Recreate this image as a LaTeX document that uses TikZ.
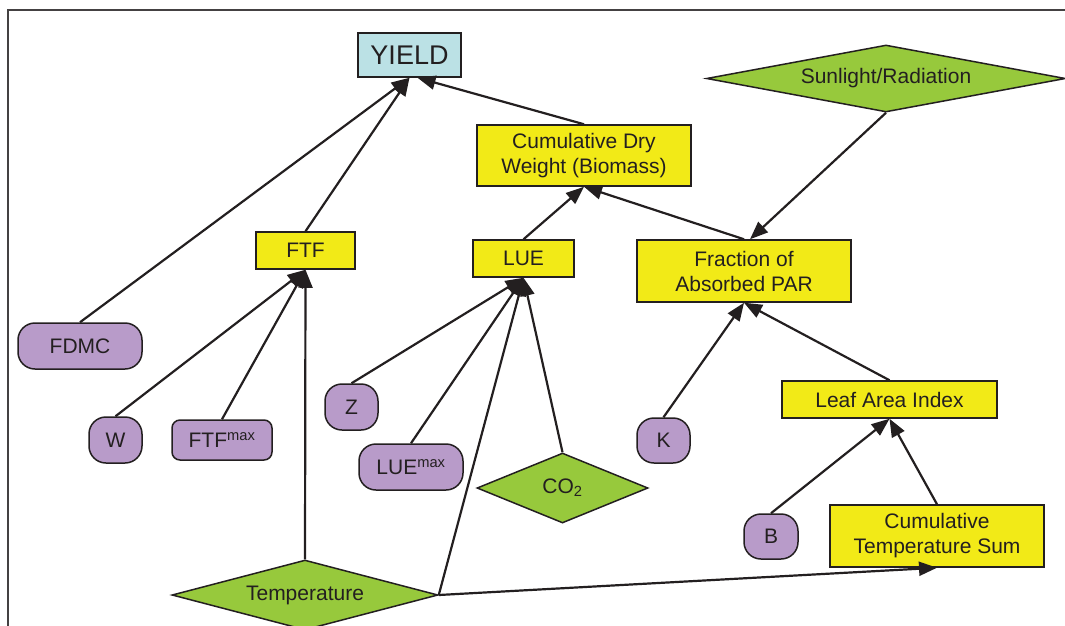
\documentclass[tikz,border=0pt]{standalone}
\usepackage{fontspec}
\setmainfont{Liberation Sans}
\usepackage{xcolor}
\usetikzlibrary{arrows.meta,shapes}

\definecolor{yel}{HTML}{F2EA17}
\definecolor{pur}{HTML}{B89BC9}
\definecolor{grn}{HTML}{97C93C}
\definecolor{blu}{HTML}{BBE1E5}
\definecolor{edge}{HTML}{231F20}

\begin{document}
\begin{tikzpicture}[x=1pt,y=-1pt,>={Triangle[length=18pt,width=14pt]},
  every node/.style={font=\fontsize{21}{25}\selectfont,text=edge,inner sep=0pt,draw=edge,line width=1.5pt},
  ybox/.style={fill=yel,align=center},
  pbox/.style={fill=pur,rounded corners=17pt},
  gdia/.style={diamond,shape aspect=6,fill=grn},
  link/.style={->,line width=2.2pt,draw=edge}]
\useasboundingbox (0,0) rectangle (1065,625);
\clip (0,0) rectangle (1065,625);
% frame
\draw[line width=2.6pt,edge!85](8,640)--(8,10)--(1090,10);
% target
\node[fill=blu,minimum width=103,minimum height=44,font=\fontsize{27}{30}\selectfont](yield) at (409.5,55){YIELD};
% yellow boxes
\node[ybox,minimum width=214,minimum height=61](cdw) at (584,155.5){Cumulative Dry\\Weight (Biomass)};
\node[ybox,minimum width=99,minimum height=37](ftf) at (305.5,250.5){FTF};
\node[ybox,minimum width=101,minimum height=37](lue) at (523.5,258.5){LUE};
\node[ybox,minimum width=214,minimum height=62](frac) at (744,271){Fraction of\\Absorbed PAR};
\node[ybox,minimum width=215,minimum height=37](lai) at (889.5,399.5){Leaf Area Index};
\node[ybox,minimum width=214,minimum height=62](cts) at (937,536){Cumulative\\Temperature Sum};
% green diamonds
\node[gdia,minimum width=359,minimum height=67](sun) at (886,78.5){Sunlight/Radiation};
\node[gdia,minimum width=266,minimum height=70](temp) at (305,595){Temperature};
\node[gdia,minimum width=171,minimum height=70](co2) at (562.5,488){CO\textsubscript{2}};
% purple inputs
\node[pbox,minimum width=124,minimum height=46](fdmc) at (80,346){FDMC};
\node[pbox,minimum width=53,minimum height=46](w) at (115.5,440){W};
\node[pbox,minimum width=100,minimum height=40,rounded corners=8pt](ftfmax) at (222,440){FTF\textsuperscript{max}};
\node[pbox,minimum width=53,minimum height=46](z) at (351.5,407){Z};
\node[pbox,minimum width=104,minimum height=46](luemax) at (411,467){LUE\textsuperscript{max}};
\node[pbox,minimum width=53,minimum height=45](k) at (663.5,440.5){K};
\node[pbox,minimum width=54,minimum height=45](b) at (771,536.5){B};
% connectors
\draw[link](fdmc.north)--(yield.south);
\draw[link](ftf.north)--(yield.south);
\draw[link](cdw.north)--([xshift=8pt]yield.south);
\draw[link](w.north)--(ftf.south);
\draw[link](ftfmax.north)--(ftf.south);
\draw[link](temp.north)--(ftf.south);
\draw[link](lue.north)--(cdw.south);
\draw[link](frac.north)--(cdw.south);
\draw[link](sun.south)--([xshift=6pt]frac.north);
\draw[link](z.north)--(lue.south);
\draw[link](luemax.north)--(lue.south);
\draw[link](temp.east)--(lue.south);
\draw[link](co2.north)--(lue.south);
\draw[link](k.north)--(frac.south);
\draw[link](lai.north)--(frac.south);
\draw[link](b.north)--(lai.south);
\draw[link](cts.north)--(lai.south);
\draw[link](temp.east)--(cts.south);
\end{tikzpicture}
\end{document}
